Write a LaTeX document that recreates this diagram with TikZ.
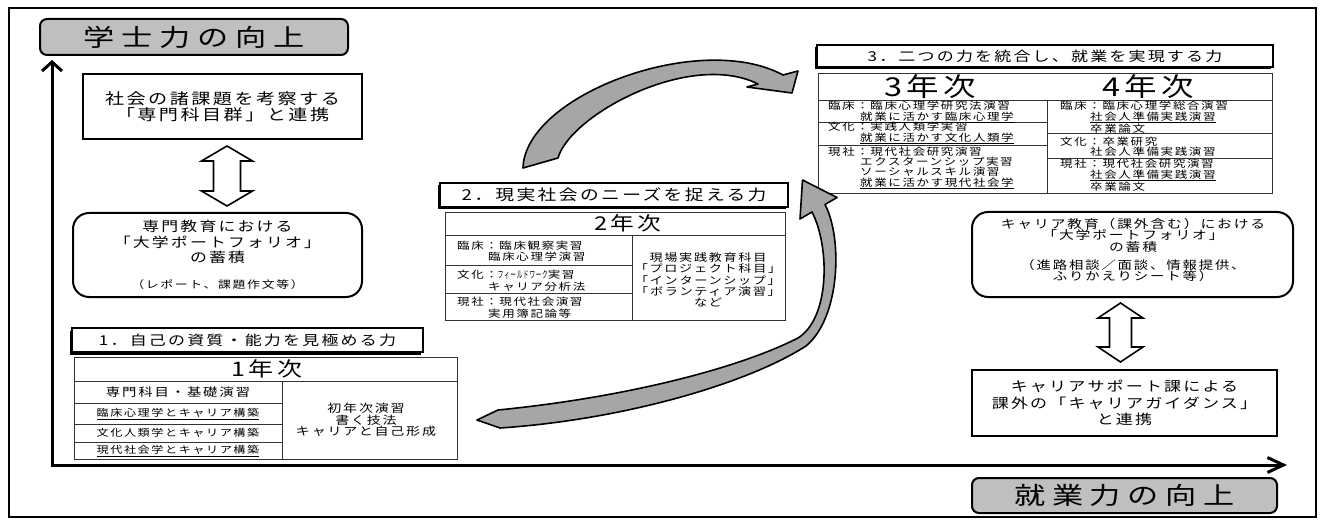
\documentclass[tikz,border=0pt]{standalone}
\usepackage{fontspec}
\usepackage{graphicx}
\usetikzlibrary{arrows.meta,shadows,calc}
\newfontfamily\jp[FakeStretch=1.25,LetterSpace=16]{Noto Sans CJK JP}
\newfontfamily\jpt[FakeStretch=1.3,LetterSpace=28]{Noto Sans CJK JP}
\newcommand\fs[2]{\fontsize{#1}{#2}\selectfont}
\tikzset{
  box/.style={draw, line width=2pt, inner sep=0pt, align=center, fill=white},
  rbox/.style={box, rounded corners=16pt},
  ttl/.style={draw, line width=2pt, rounded corners=7pt, fill=gray!50, inner sep=0pt},
  lbl/.style={draw, line width=1.3pt, fill=white, inner sep=0pt,
    drop shadow={shadow xshift=-2.5pt, shadow yshift=-2.5pt, fill=black, opacity=1}},
  tbl/.style={draw=black!80, line width=0.9pt},
  cell/.style={inner sep=0pt, align=left, anchor=west},
  ctr/.style={inner sep=0pt, align=center},
  curvearrow/.style={fill=gray!70, draw=black, line width=1.6pt, line join=round},
  dblarr/.style={draw, fill=white, line width=1.6pt, line join=miter},
  axis/.style={line width=3pt},
  jf/.style 2 args={font={\jp\fs{#1}{#2}}},
}
% double block arrow between two nodes: #1 upper node, #2 lower node, #3 x offset,
% #4 head half width, #5 shaft half width, #6 head length, #7 top gap, #8 bottom gap
\newcommand\dblarrowbetween[8]{%
  \draw[dblarr] let \p1=($(#1.south)+(#3,#7)$), \p2=($(#2.north)+(#3,-#8)$) in
    (\p1) -- (\x1+#4pt,\y1-#6pt) -- (\x1+#5pt,\y1-#6pt) -- (\x1+#5pt,\y2+#6pt)
    -- (\x1+#4pt,\y2+#6pt) -- (\x1,\y2) -- (\x1-#4pt,\y2+#6pt) -- (\x1-#5pt,\y2+#6pt)
    -- (\x1-#5pt,\y1-#6pt) -- (\x1-#4pt,\y1-#6pt) -- cycle;}
\begin{document}
\begin{tikzpicture}[x=1pt,y=-1pt]
\useasboundingbox (0,0) rectangle (1322,521);
\fill[white] (0,0) rectangle (1322,521);
\draw[line width=2pt] (9,8) rectangle (1316,517);

% titles
\node[ttl, minimum width=308pt, minimum height=36pt, font={\jpt\fs{24}{26}}] (gakushi) at (194,37) {学士力の向上};
\node[ttl, minimum width=305pt, minimum height=35pt, font={\jpt\fs{24}{26}}] (shugyo) at (1124.5,495.5) {就業力の向上};

% axes
\coordinate (orig) at (52,465);
\coordinate (ytip) at (52,60);
\coordinate (xtip) at (1287,465);
\draw[axis, {Straight Barb[length=9pt,width=20pt]}-{Straight Barb[length=16pt,width=15pt]}] (ytip) -- (orig) -- (xtip);

% left column
\node[box, minimum width=279pt, minimum height=65pt, jf={15.3}{16}] (senmon) at (222.5,106.5)
  {社会の諸課題を考察する\\「専門科目群」と連携};
\node[rbox, minimum width=289pt, minimum height=84pt, jf={13.5}{15.5}] (pfL) at (217.5,255)
  {専門教育における\\「大学ポートフォリオ」\\の蓄積\\[10pt]\fs{10.3}{12}（レポート、課題作文等）};
\dblarrowbetween{senmon}{pfL}{4.5}{25.5}{13.5}{15}{6}{6}

% section 1
\node[lbl, minimum width=351pt, minimum height=24pt, jf={13.6}{14}] (lab1) at (247.5,340) {1．自己の資質・能力を見極める力};
\draw[tbl] (74,357) rectangle (457,459);
\draw[tbl] (74,381) -- (457,381);
\draw[tbl] (282,381) -- (282,459);
\draw[tbl] (74,403) -- (282,403) (74,424) -- (282,424) (74,442) -- (282,442);
\node[ctr, jf={20}{22}] (y1) at (267,369) {1年次};
\node[ctr, jf={11.5}{12}] (y1a) at (178,392) {専門科目・基礎演習};
\node[ctr, jf={9.7}{11}] (y1b) at (178,414) {\underline{臨床心理学とキャリア構築}};
\node[ctr, jf={9.7}{11}] (y1c) at (178,433) {文化人類学とキャリア構築};
\node[ctr, jf={9.7}{11}] (y1d) at (178,451) {\underline{現代社会学とキャリア構築}};
\node[ctr, jf={11.2}{11.7}] (y1r) at (366,420) {初年次演習\\書く技法\\キャリアと自己形成};

% section 2
\node[lbl, minimum width=348pt, minimum height=24pt, jf={15}{16}] (lab2) at (614,195) {2．現実社会のニーズを捉える力};
\draw[tbl] (445,212) rectangle (785,320);
\draw[tbl] (445,235) -- (785,235);
\draw[tbl] (632,235) -- (632,320);
\draw[tbl] (445,265) -- (632,265) (445,293) -- (632,293);
\node[ctr, jf={19}{21}] (y2) at (628,223.5) {2年次};
\node[cell, jf={10}{11.5}] (y2a) at (457,251) {臨床：臨床観察実習\\\hspace*{31pt}臨床心理学演習};
\node[cell, jf={10}{11.5}] (y2b) at (457,281) {文化：\scalebox{0.45}[1]{フィールドワーク}実習\\\hspace*{31pt}キャリア分析法};
\node[cell, jf={10}{11.5}] (y2c) at (457,307.5) {現社：現代社会演習\\\hspace*{31pt}実用簿記論等};
\node[ctr, jf={10.5}{11.2}] (y2r) at (708,280) {現場実践教育科目\\「プロジェクト科目」\\「インターンシップ」\\「ボランティア演習」\\など};

% section 3
\node[lbl, minimum width=456pt, minimum height=22pt, jf={13.6}{15}] (lab3) at (1045,56) {3．二つの力を統合し、就業を実現する力};
\draw[tbl] (818,73) rectangle (1272,193);
\draw[tbl] (818,100) -- (1272,100);
\draw[tbl] (1047,100) -- (1047,193);
\draw[tbl] (818,122) -- (1047,122) (818,145) -- (1047,145);
\draw[tbl] (1047,133) -- (1272,133) (1047,158) -- (1272,158);
\node[ctr, jf={26}{28}] (y3) at (930,87) {3年次};
\node[ctr, jf={26}{28}] (y4) at (1148,87) {4年次};
\node[cell, jf={10}{10.4}] (y3a) at (828,112) {臨床：臨床心理学研究法演習\\\hspace*{32pt}\underline{就業に活かす臨床心理学}};
\node[cell, jf={10}{10.4}] (y3b) at (828,133) {文化：実践人類学実習\\\hspace*{32pt}\underline{就業に活かす文化人類学}};
\node[cell, jf={10}{10.4}] (y3c) at (828,168) {現社：現代社会研究演習\\\hspace*{32pt}エクスターンシップ実習\\\hspace*{32pt}ソーシャルスキル演習\\\hspace*{32pt}\underline{就業に活かす現代社会学}};
\node[cell, jf={10}{10.4}] (y4a) at (1060,117.5) {臨床：臨床心理学総合演習\\\hspace*{30pt}\underline{社会人準備実践演習}\\\hspace*{30pt}卒業論文};
\node[cell, jf={10}{10.4}] (y4b) at (1060,147) {文化：卒業研究\\\hspace*{30pt}社会人準備実践演習};
\node[cell, jf={10}{10.4}] (y4c) at (1060,175.5) {現社：現代社会研究演習\\\hspace*{30pt}\underline{社会人準備実践演習}\\\hspace*{30pt}卒業論文};

% right column
\node[rbox, minimum width=321pt, minimum height=85pt] (pfR) at (1132.5,254.5) {};
\node[ctr, jf={11.8}{11.6}] (pfRt) at (1133,250) {キャリア教育（課外含む）における\\「大学ポートフォリオ」\\の蓄積\\[6.5pt]\fs{11.5}{10.5}（進路相談／面談、情報提供、\\\fs{11.5}{10.5}ふりかえりシート等）};
\node[box, minimum width=305pt, minimum height=66pt, jf={13.6}{16.5}] (career) at (1124.5,403)
  {キャリアサポート課による\\課外の「キャリアガイダンス」\\と連携};
\dblarrowbetween{pfR}{career}{-12}{22.5}{11}{15}{5}{7}

% curved arrows
\draw[curvearrow] (523,168) .. controls (525,95) and (700,30) .. (783,75)
  -- (798,71) -- (792,93) -- (747,87) -- (758,84)
  .. controls (690,50) and (570,115) .. (558,158) -- cycle;
\draw[curvearrow] (477,420) -- (498,410) .. controls (620,398) and (735,370) .. (798,338)
  .. controls (830,318) and (830,247) .. (812,212) -- (800,219) -- (802.5,180) -- (837,197.5) -- (825,204.5)
  .. controls (843,239) and (840,318) .. (806,346) .. controls (745,385) and (620,420) .. (500,428) -- cycle;
\end{tikzpicture}
\end{document}
